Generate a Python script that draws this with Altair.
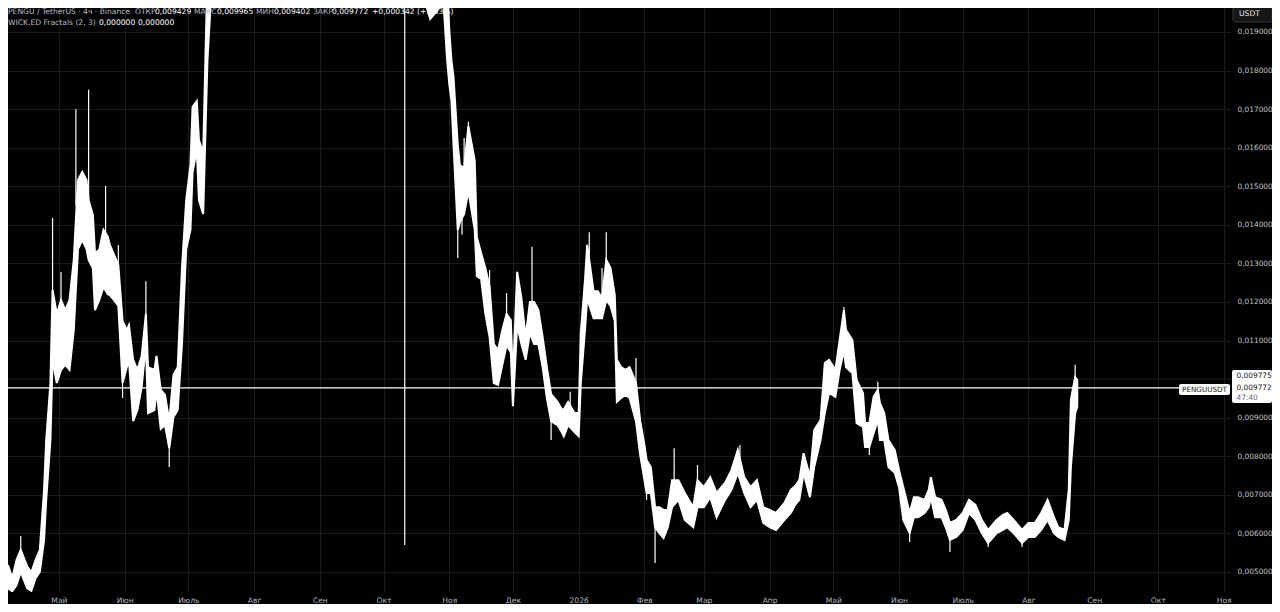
import altair as alt
import pandas as pd

FONT = "DejaVu Sans"

# ---- price ribbon (thousandths of USDT): date, high, low ----
dates = [
    "2025-04-07", "2025-04-09", "2025-04-11", "2025-04-13", "2025-04-16", "2025-04-18",
    "2025-04-20", "2025-04-22", "2025-04-24", "2025-04-25", "2025-04-27", "2025-04-28",
    "2025-04-30", "2025-05-02", "2025-05-04", "2025-05-06", "2025-05-08", "2025-05-10",
    "2025-05-12", "2025-05-14", "2025-05-15", "2025-05-17", "2025-05-18", "2025-05-20",
    "2025-05-22", "2025-05-24", "2025-05-25", "2025-05-27", "2025-05-29", "2025-05-31",
    "2025-06-02", "2025-06-03", "2025-06-05", "2025-06-07", "2025-06-09", "2025-06-11",
    "2025-06-12", "2025-06-15", "2025-06-16", "2025-06-18", "2025-06-20", "2025-06-22",
    "2025-06-24", "2025-06-26", "2025-06-28", "2025-06-30", "2025-07-02", "2025-07-03",
    "2025-07-05", "2025-07-06", "2025-07-08", "2025-07-10", "2025-07-12",
    "2025-07-16", "2025-07-22", "2025-07-28", "2025-08-03", "2025-08-10", "2025-08-16",
    "2025-08-22", "2025-08-29", "2025-09-05", "2025-09-12", "2025-09-19", "2025-09-26",
    "2025-10-03", "2025-10-09", "2025-10-11", "2025-10-16", "2025-10-20", "2025-10-23",
    "2025-10-27", "2025-10-29", "2025-10-31",
    "2025-11-01", "2025-11-02", "2025-11-03", "2025-11-05", "2025-11-06", "2025-11-08",
    "2025-11-10", "2025-11-13", "2025-11-14", "2025-11-16", "2025-11-18", "2025-11-20",
    "2025-11-22", "2025-11-24", "2025-11-26", "2025-11-28", "2025-11-30", "2025-12-01",
    "2025-12-03", "2025-12-05", "2025-12-07", "2025-12-09", "2025-12-11", "2025-12-13",
    "2025-12-15", "2025-12-17", "2025-12-19", "2025-12-22", "2025-12-24", "2025-12-25",
    "2025-12-27", "2025-12-30", "2026-01-01", "2026-01-02", "2026-01-04", "2026-01-05",
    "2026-01-08", "2026-01-10", "2026-01-12", "2026-01-14", "2026-01-16", "2026-01-18",
    "2026-01-19", "2026-01-21", "2026-01-23", "2026-01-25", "2026-01-28", "2026-01-30",
    "2026-02-01", "2026-02-02", "2026-02-04", "2026-02-06", "2026-02-08", "2026-02-10",
    "2026-02-12", "2026-02-14", "2026-02-17", "2026-02-20", "2026-02-24", "2026-02-26",
    "2026-03-01", "2026-03-04", "2026-03-07", "2026-03-11", "2026-03-14", "2026-03-17",
    "2026-03-20", "2026-03-23", "2026-03-26", "2026-03-29", "2026-04-01", "2026-04-04",
    "2026-04-08", "2026-04-11", "2026-04-13", "2026-04-15", "2026-04-17", "2026-04-20",
    "2026-04-22", "2026-04-25", "2026-04-27", "2026-04-29", "2026-05-02", "2026-05-04",
    "2026-05-06", "2026-05-07", "2026-05-10", "2026-05-12", "2026-05-15", "2026-05-16",
    "2026-05-18", "2026-05-20", "2026-05-22", "2026-05-23", "2026-05-25", "2026-05-27",
    "2026-05-30", "2026-06-01", "2026-06-03", "2026-06-06", "2026-06-08", "2026-06-10",
    "2026-06-13", "2026-06-15", "2026-06-16", "2026-06-18", "2026-06-21", "2026-06-23",
    "2026-06-25", "2026-06-28", "2026-07-01", "2026-07-04", "2026-07-07", "2026-07-10",
    "2026-07-13", "2026-07-17", "2026-07-20", "2026-07-22", "2026-07-25", "2026-07-29",
    "2026-08-01", "2026-08-04", "2026-08-07", "2026-08-10", "2026-08-13", "2026-08-15",
    "2026-08-18", "2026-08-20", "2026-08-21", "2026-08-23", "2026-08-24",
]
highs = [
    5.18, 4.84, 5.31, 5.57, 5.15, 4.99,
    5.31, 5.57, 7.13, 8.42, 9.90, 12.31,
    11.69, 12.05, 11.79, 12.05, 13.09, 15.16,
    15.37, 15.16, 14.64, 14.26, 13.27, 13.35,
    13.87, 13.70, 13.48, 13.22, 12.96, 11.51,
    11.27, 11.40, 10.50, 10.24, 10.60, 11.69,
    10.31, 10.24, 10.60, 9.72, 9.59, 8.91,
    10.11, 10.31, 12.88, 14.64, 15.55, 17.06,
    17.21, 16.20, 15.86, 20.50, 22.50,
    28.0, 38.0, 43.0, 36.0, 40.0, 41.0,
    35.0, 33.0, 32.0, 34.0, 32.0, 27.0,
    28.0, 26.0, 22.0, 21.5, 21.0, 20.5,
    20.8, 21.0, 20.3,
    19.05, 18.27, 17.83, 16.07, 15.55, 15.47,
    16.56, 15.66, 13.68, 13.27, 12.88, 12.39,
    10.91, 10.75, 11.27, 11.69, 11.53, 10.00,
    12.78, 12.10, 11.09, 12.00, 12.00, 11.79,
    11.09, 10.31, 9.61, 9.41, 9.22, 9.22,
    9.41, 9.12, 9.12, 11.20, 12.60, 13.48,
    12.28, 12.28, 12.10, 13.09, 12.88, 12.18,
    10.50, 10.31, 10.24, 10.31, 9.90, 8.91,
    8.29, 7.90, 7.72, 6.68, 6.68, 6.61,
    6.61, 7.38, 7.38, 7.05, 6.68, 7.38,
    7.20, 7.46, 7.05, 7.31, 7.64, 8.16,
    7.46, 7.20, 7.38, 6.68, 6.61, 6.53,
    6.79, 7.13, 7.23, 7.38, 8.08, 7.46,
    8.68, 8.94, 10.42, 10.50, 10.24, 11.01,
    11.79, 11.27, 11.01, 9.98, 9.64, 8.86,
    8.86, 9.54, 9.72, 9.38, 9.12, 8.42,
    8.16, 7.64, 7.20, 6.53, 6.94, 6.94,
    6.87, 7.13, 7.46, 6.94, 6.87, 6.61,
    6.27, 6.35, 6.53, 6.87, 6.74, 6.35,
    6.09, 6.35, 6.48, 6.53, 6.35, 6.09,
    6.27, 6.27, 6.53, 6.87, 6.42, 6.16,
    6.09, 7.13, 9.46, 10.05, 9.98,
]
lows = [
    4.58, 4.50, 4.66, 5.00, 4.58, 4.51,
    4.84, 5.00, 5.83, 6.87, 8.42, 10.50,
    9.90, 10.24, 10.37, 10.24, 11.27, 13.37,
    13.61, 13.37, 13.09, 12.88, 11.79, 12.05,
    12.39, 12.20, 12.18, 12.05, 11.90, 9.90,
    10.31, 10.50, 8.91, 9.20, 9.79, 10.91,
    9.12, 9.20, 9.72, 8.71, 8.81, 8.21,
    9.02, 9.20, 10.91, 13.37, 13.87, 15.37,
    15.94, 14.64, 14.28, 18.25, 20.20,
    24.0, 32.0, 38.0, 31.0, 35.0, 36.0,
    31.0, 30.0, 29.0, 31.0, 28.0, 24.0,
    25.0, 24.0, 20.2, 20.1, 19.9, 19.34,
    19.6, 20.0, 18.27,
    17.65, 17.24, 16.07, 13.87, 14.07, 14.28,
    14.88, 13.87, 12.67, 12.60, 11.69, 11.09,
    9.90, 9.85, 10.37, 10.88, 10.70, 9.30,
    11.40, 10.91, 10.50, 11.20, 10.91, 10.91,
    10.31, 9.51, 8.91, 8.81, 8.63, 8.52,
    8.81, 8.63, 8.52, 9.90, 11.30, 12.10,
    11.58, 11.58, 11.58, 12.05, 11.90, 11.51,
    9.41, 9.51, 9.59, 9.51, 8.91, 8.03,
    7.38, 7.05, 7.05, 6.16, 6.01, 5.88,
    6.16, 6.68, 6.87, 6.35, 6.16, 6.68,
    6.68, 6.94, 6.42, 6.87, 7.13, 7.57,
    7.05, 6.68, 6.87, 6.27, 6.16, 6.09,
    6.35, 6.53, 6.74, 6.87, 7.57, 6.94,
    7.72, 8.42, 9.12, 9.64, 9.54, 10.24,
    10.75, 10.31, 10.16, 8.86, 8.76, 8.24,
    8.24, 8.60, 8.94, 8.42, 8.42, 7.72,
    7.57, 7.20, 6.35, 6.01, 6.42, 6.42,
    6.53, 6.68, 6.94, 6.42, 6.42, 6.16,
    5.83, 5.91, 6.09, 6.53, 6.35, 6.01,
    5.75, 6.01, 6.09, 6.16, 6.01, 5.75,
    5.91, 5.91, 6.09, 6.35, 6.01, 5.91,
    5.83, 6.35, 7.72, 9.12, 9.28,
]

# ---- long wicks (thousandths of USDT) ----
wick_dates = [
    "2025-04-13", "2025-04-28", "2025-05-02", "2025-05-09", "2025-05-15", "2025-05-23",
    "2025-05-29", "2025-05-31", "2025-06-11", "2025-06-22", "2025-10-11", "2025-11-05",
    "2025-11-07", "2025-11-08", "2025-11-10", "2025-11-20", "2025-11-28", "2025-12-10",
    "2025-12-19", "2025-12-28", "2026-01-06", "2026-01-12", "2026-01-14", "2026-01-28",
    "2026-02-02", "2026-02-06", "2026-02-15", "2026-02-26", "2026-03-18", "2026-05-06",
    "2026-05-18", "2026-05-22", "2026-06-06", "2026-06-25", "2026-07-13", "2026-07-29",
    "2026-08-23",
]
wick_hi = [
    5.93, 14.18, 12.78, 17.00, 17.50, 15.01,
    13.48, 10.50, 12.54, 8.60, 30.0, 14.50,
    14.50, 16.25, 16.67, 12.83, 12.23, 13.43,
    9.00, 9.67, 13.81, 12.88, 13.81, 10.55,
    7.30, 6.40, 8.21, 7.77, 8.29, 11.87,
    8.50, 9.93, 6.30, 6.00, 6.00, 6.00,
    10.37,
]
wick_lo = [
    5.30, 11.00, 11.50, 14.50, 14.00, 13.00,
    12.50, 9.51, 11.20, 7.72, 5.70, 13.14,
    13.74, 15.00, 15.50, 12.00, 11.30, 12.00,
    8.42, 9.00, 12.50, 12.00, 12.50, 9.90,
    6.87, 5.23, 7.20, 7.00, 7.60, 10.90,
    8.03, 9.30, 5.78, 5.52, 5.65, 5.65,
    9.80,
]

last_price = [9.772]

month_ticks = [(2025, m) for m in range(5, 13)] + [(2026, m) for m in range(1, 12)]
# 0,010000 sits behind the price badge in the reference, so only its grid line is drawn
price_ticks = [0.005, 0.006, 0.007, 0.008, 0.009, 0.011, 0.012,
               0.013, 0.014, 0.015, 0.016, 0.017, 0.018, 0.019]
hidden_ticks = [0.010]

ribbon = pd.DataFrame({"date": dates,
                       "high": [v / 1000 for v in highs],
                       "low": [v / 1000 for v in lows]})
wicks = pd.DataFrame({"date": wick_dates,
                      "hi": [v / 1000 for v in wick_hi],
                      "lo": [v / 1000 for v in wick_lo]})
last = pd.DataFrame({"p": [v / 1000 for v in last_price]})
hidden = pd.DataFrame({"g": hidden_ticks})
one = pd.DataFrame({"k": [0]})

GRID = "#1b1b1b"
xscale = alt.Scale(type="utc", domain=[alt.DateTime(year=2025, month=4, date=7, utc=True),
                                        alt.DateTime(year=2026, month=11, date=4, utc=True)])
xaxis = alt.Axis(
    values=[alt.DateTime(year=y, month=m, date=1, utc=True) for y, m in month_ticks],
    labelExpr="utcmonth(datum.value) == 0 ? utcFormat(datum.value, '%Y') : "
              "['Янв','Фев','Мар','Апр','Май','Июн','Июль','Авг','Сен','Окт','Ноя','Дек'][utcmonth(datum.value)]",
    grid=True, gridColor=GRID, gridWidth=1, domain=False, ticks=False,
    labelColor="#b2b5be", labelFont=FONT, labelFontSize=7.6, labelPadding=4,
    labelFlush=False, labelOverlap=False, title=None)
yscale = alt.Scale(domain=[0.004481, 0.019622], nice=False, zero=False)
yaxis = alt.Axis(
    orient="right", values=price_ticks,
    labelExpr="replace(format(datum.value, '.6f'), '.', ',')",
    grid=True, gridColor=GRID, gridWidth=1, domain=False, ticks=False,
    labelColor="#c4c4c4", labelFont=FONT, labelFontSize=7.4, labelPadding=7,
    labelOverlap=False, title=None)

hgrid = alt.Chart(hidden).mark_rule(color=GRID, strokeWidth=1).encode(
    y=alt.Y("g:Q", scale=yscale, axis=yaxis),
)
area = alt.Chart(ribbon).mark_area(color="#ffffff", stroke="#ffffff", strokeWidth=2,
                                   clip=True, opacity=1).encode(
    x=alt.X("date:T", scale=xscale, axis=xaxis),
    y=alt.Y("high:Q", scale=yscale, axis=yaxis),
    y2="low:Q",
)
wick = alt.Chart(wicks).mark_rule(color="#ffffff", strokeWidth=1.2, clip=True).encode(
    x=alt.X("date:T", scale=xscale, axis=xaxis),
    y=alt.Y("hi:Q", scale=yscale, axis=yaxis),
    y2="lo:Q",
)
pline = alt.Chart(last).mark_rule(color="#ffffff", strokeWidth=1.3).encode(
    y=alt.Y("p:Q", scale=yscale, axis=yaxis),
)


def txt(s, x, y, color, size=7.6, weight="normal", align="left"):
    return alt.Chart(one).mark_text(
        text=s, color=color, fontSize=size, font=FONT, fontWeight=weight,
        align=align, baseline="middle").encode(x=alt.value(x), y=alt.value(y))


def box(x, x2, y, y2, fill, stroke=None):
    kw = dict(fill=fill, cornerRadius=2)
    if stroke:
        kw["stroke"] = stroke
        kw["strokeWidth"] = 1
    return alt.Chart(one).mark_rect(**kw).encode(
        x=alt.value(x), x2=alt.value(x2), y=alt.value(y), y2=alt.value(y2))


LBL = "#b8bcc4"
VAL = "#ffffff"
overlay = [
    txt("PENGU / TetherUS · 4ч · Binance", 0, 3.5, LBL),
    txt("ОТКР", 127, 3.5, LBL), txt("0,009429", 147, 3.5, VAL),
    txt("МАКС", 186, 3.5, LBL), txt("0,009965", 209, 3.5, VAL),
    txt("МИН", 248, 3.5, LBL), txt("0,009402", 266, 3.5, VAL),
    txt("ЗАКР", 305, 3.5, LBL), txt("0,009772", 324, 3.5, VAL),
    txt("+0,000342 (+3,63%)", 364, 3.5, VAL),
    txt("WICK.ED Fractals (2, 3)", 0, 15, LBL),
    txt("0,000000", 91, 15, VAL), txt("0,000000", 130, 15, VAL),
    box(1225, 1264, -4, 14, "#161616", "#3a3a3a"),
    txt("USDT", 1231, 5.5, "#e6e6e6"),
    box(1171, 1222, 376, 387, "#ffffff"),
    txt("PENGUUSDT", 1196.5, 381.5, "#131722", size=7.2, align="center"),
    box(1224, 1264, 362, 395, "#ffffff"),
    txt("0,009775", 1228.5, 367.5, "#131722", size=7.4),
    txt("0,009772", 1228.5, 379.5, "#131722", size=7.4),
    txt("47:40", 1228.5, 390, "#6a6d78", size=7.4),
]

chart = alt.layer(hgrid, area, wick, pline, *overlay).properties(
    width=1222, height=584,
    autosize=alt.AutoSizeParams(type="none"),
    padding={"left": 0, "top": 0, "right": 42, "bottom": 12},
    background="#000000",
).configure_view(strokeWidth=0)

chart.save("out.html", embed_options={"renderer": "svg", "actions": False})
